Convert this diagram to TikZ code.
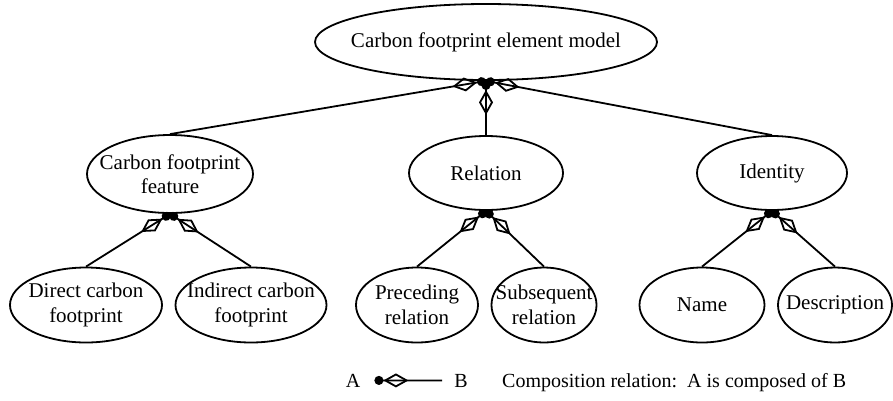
\documentclass[tikz,border=0pt]{standalone}
\usepackage{fontspec}
\setmainfont{Liberation Serif}
\usetikzlibrary{shapes.geometric,arrows.meta}

\tikzset{
  ent/.style={ellipse, draw, line width=1.8pt, inner sep=0pt},
  lbl/.style={font=\fontsize{21}{24.5}\selectfont, align=center, inner sep=0pt},
  leg/.style={font=\fontsize{20}{24}\selectfont, inner sep=0pt, anchor=base},
  comp/.style={line width=1.8pt,
    -{Diamond[open, length=25pt, width=14pt, sep=0pt] Circle[length=9pt, sep=0pt]}},
}

\begin{document}
\begin{tikzpicture}[x=1pt, y=-1pt]
  \useasboundingbox (0,0) rectangle (893,400);

  % ellipses
  \node[ent, minimum width=342pt, minimum height=76pt] (top) at (486,42) {};
  \node[ent, minimum width=166pt, minimum height=78pt] (feat) at (170,174) {};
  \node[ent, minimum width=154pt, minimum height=74pt] (rel) at (486,173) {};
  \node[ent, minimum width=150pt, minimum height=74pt] (iden) at (772,173) {};
  \node[ent, minimum width=152pt, minimum height=75pt] (dir) at (86,305) {};
  \node[ent, minimum width=151pt, minimum height=75pt] (ind) at (251,305) {};
  \node[ent, minimum width=122pt, minimum height=75pt] (pre) at (417,305) {};
  \node[ent, minimum width=105pt, minimum height=75pt] (sub) at (544,305) {};
  \node[ent, minimum width=125pt, minimum height=75pt] (nam) at (702,305) {};
  \node[ent, minimum width=114pt, minimum height=75pt] (des) at (835,305) {};

  % labels
  \node[lbl] (topT) at (top) {Carbon footprint element model};
  \node[lbl] (featT) at (feat) {Carbon footprint\\feature};
  \node[lbl] (relT) at (rel) {Relation};
  \node[lbl] (idenT) at (iden) {Identity};
  \node[lbl] (dirT) at (dir) {Direct carbon\\footprint};
  \node[lbl] (indT) at (ind) {Indirect carbon\\footprint};
  \node[lbl] (preT) at (pre) {Preceding\\relation};
  \node[lbl] (subT) at (sub) {Subsequent\\relation};
  \node[lbl] (namT) at (nam) {Name};
  \node[lbl] (desT) at (des) {Description};

  % composition connectors
  \draw[comp] (feat.north) -- (top.south);
  \draw[comp] (rel.north) -- (top.south);
  \draw[comp] (iden.north) -- (top.south);
  \draw[comp] (dir.north) -- (feat.south);
  \draw[comp] (ind.north) -- (feat.south);
  \draw[comp] (pre.north) -- (rel.south);
  \draw[comp] (sub.north) -- (rel.south);
  \draw[comp] (nam.north) -- (iden.south);
  \draw[comp] (des.north) -- (iden.south);

  % legend
  \node[leg] (la) at (353,387) {A};
  \node[leg] (lb) at (461,387) {B};
  \node[leg, anchor=base west] (lt) at (502,387) {Composition relation:\ \ A is composed of B};
  \draw[comp] ([xshift=-12pt]lb.west) -- ([xshift=14pt]la.east);
\end{tikzpicture}
\end{document}
